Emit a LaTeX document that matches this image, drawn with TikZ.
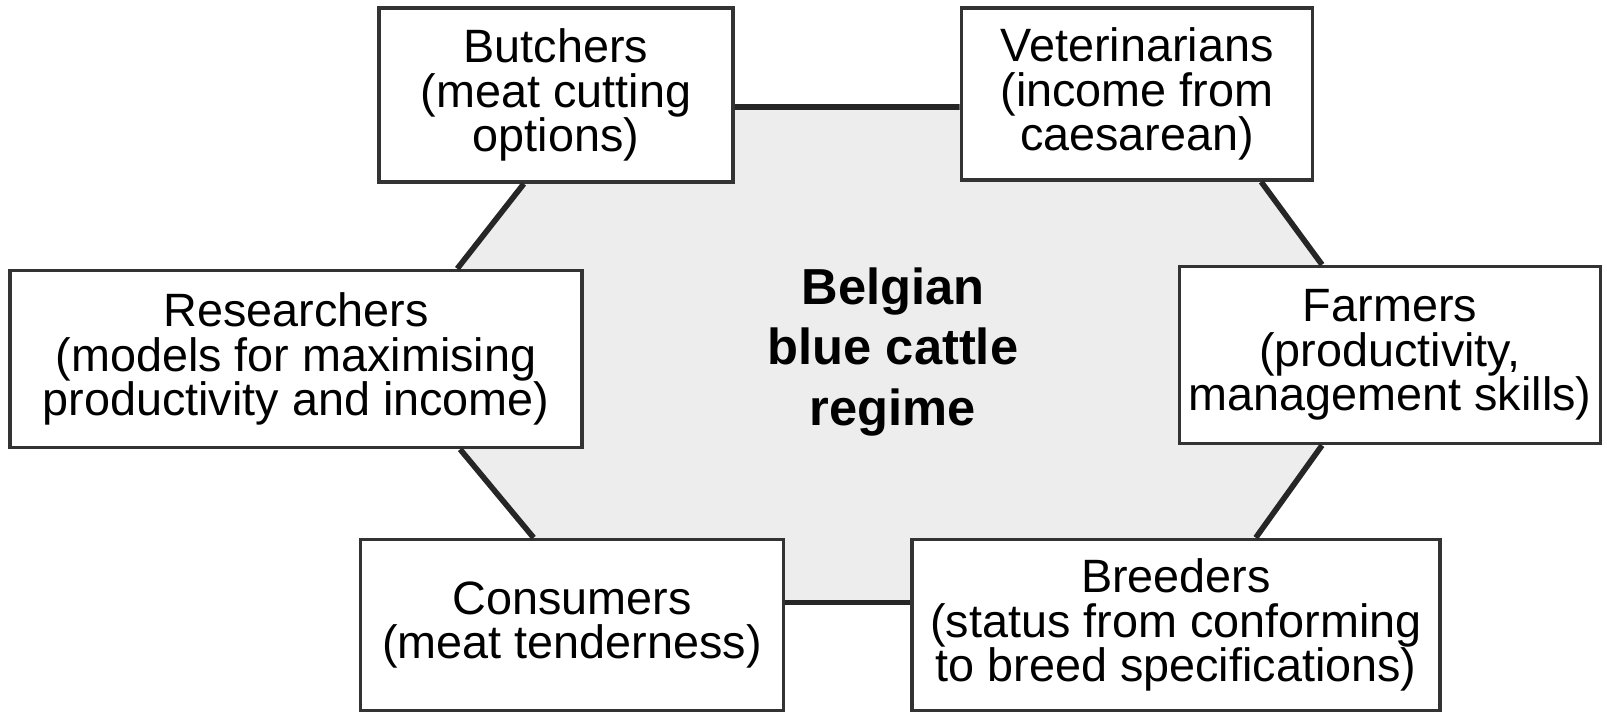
\documentclass[tikz,border=0pt]{standalone}
\usepackage{fontspec}
\setmainfont{Liberation Sans}
\usepackage{tikz}
\usetikzlibrary{calc, backgrounds}

\begin{document}
\begin{tikzpicture}[
    x=0.01cm, y=-0.01cm,
    box/.style={draw=black!80, line width=1pt, fill=white, align=center, inner sep=0pt, font=\fontsize{13.3}{12.7}\selectfont},
    link/.style={draw=black!85, line width=1.6pt},
    regime/.style={align=center, font=\bfseries\fontsize{14.4}{17.3}\selectfont}
    ]
    \useasboundingbox (0,0) rectangle (1607,713);

    \node (butchers) [box, minimum width=3.54cm, minimum height=1.74cm] at (556,95) {Butchers\\(meat cutting\\options)};
    \node (vets) [box, minimum width=3.51cm, minimum height=1.72cm] at (1137,94) {Veterinarians\\(income from\\caesarean)};
    \node (researchers) [box, minimum width=5.72cm, minimum height=1.77cm] at (296,359) {Researchers\\(models for maximising\\productivity and income)};
    \node (farmers) [box, minimum width=4.21cm, minimum height=1.77cm] at (1390,355) {Farmers\\(productivity,\\management skills)};
    \node (consumers) [box, minimum width=4.23cm, minimum height=1.71cm] at (572,625) {Consumers\\(meat tenderness)};
    \node (breeders) [box, minimum width=5.28cm, minimum height=1.71cm] at (1176,625) {Breeders\\(status from conforming\\to breed specifications)};
    \node (regime) [regime] at (893,352) {Belgian\\blue cattle\\regime};

    % where the ring meets the boxes
    \coordinate (bu-e) at ([yshift=-0.12cm]butchers.east);
    \coordinate (ve-w) at ([yshift=-0.13cm]vets.west);
    \coordinate (bu-s) at ($(butchers.south west)!0.41!(butchers.south east)$);
    \coordinate (ve-s) at ($(vets.south west)!0.85!(vets.south east)$);
    \coordinate (re-n) at ($(researchers.north west)!0.78!(researchers.north east)$);
    \coordinate (re-s) at ($(researchers.south west)!0.785!(researchers.south east)$);
    \coordinate (fa-n) at ($(farmers.north west)!0.34!(farmers.north east)$);
    \coordinate (fa-s) at ($(farmers.south west)!0.34!(farmers.south east)$);
    \coordinate (co-n) at ($(consumers.north west)!0.41!(consumers.north east)$);
    \coordinate (br-n) at ($(breeders.north west)!0.65!(breeders.north east)$);
    \coordinate (co-e) at ([yshift=0.225cm]consumers.east);
    \coordinate (br-w) at ([yshift=0.225cm]breeders.west);

    \begin{pgfonlayer}{background}
        \fill[black!7] (bu-e) -- (ve-w) -- (ve-s) -- (fa-n) -- (fa-s) -- (br-n) -- (br-w)
            -- (co-e) -- (co-n) -- (re-s) -- (re-n) -- (bu-s) -- cycle;
    \end{pgfonlayer}

    \draw[link] (bu-e) -- (ve-w);
    \draw[link] (bu-s) -- (re-n);
    \draw[link] (ve-s) -- (fa-n);
    \draw[link] (re-s) -- (co-n);
    \draw[link] (fa-s) -- (br-n);
    \draw[link] (co-e) -- (br-w);
\end{tikzpicture}
\end{document}
